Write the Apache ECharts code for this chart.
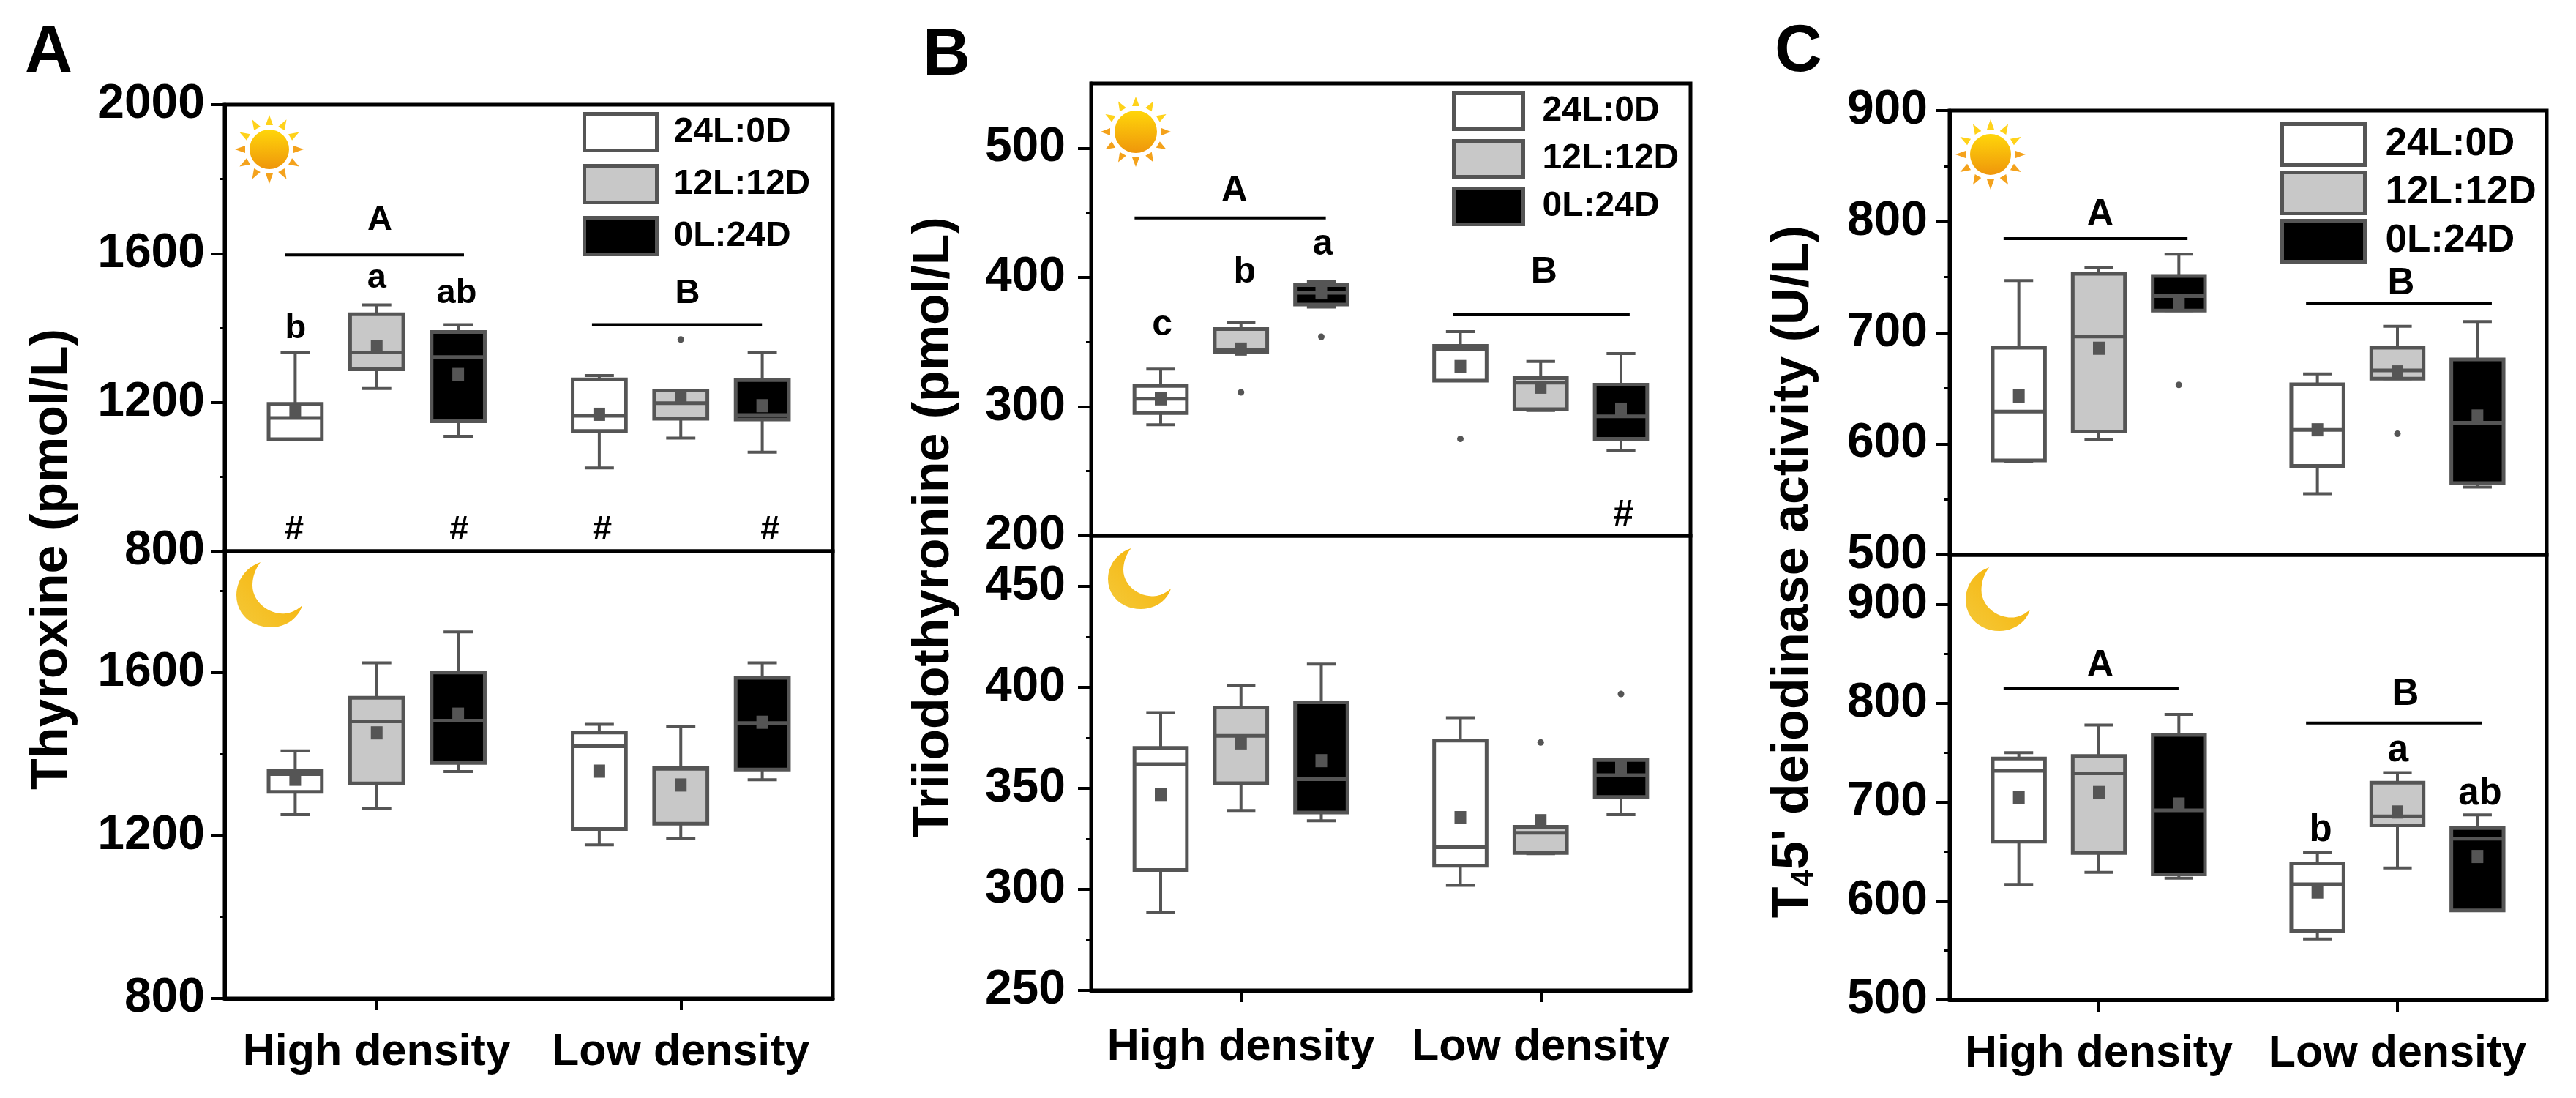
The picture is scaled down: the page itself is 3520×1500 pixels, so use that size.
<!DOCTYPE html>
<html><head><meta charset="utf-8">
<style>html,body{margin:0;padding:0;background:#fff}#c{width:3520px;height:1500px}</style>
<script src="https://cdn.jsdelivr.net/npm/echarts@6/dist/echarts.min.js"></script>
</head><body><div id="c"></div>
<script>
const categories = ['High density', 'Low density'];
const seriesNames = ['24L:0D', '12L:12D', '0L:24D'];
// each row: [low whisker, Q1, median, Q3, high whisker, mean, outlier]
const A_day_24 = [[1101,1101,1158,1196,1334,1176,null],[1024,1123,1164,1262,1272,1168,null]];
const A_day_12 = [[1237,1289,1334,1437,1462,1350,null],[1104,1156,1198,1232,1232,1215,1369]];
const A_day_0  = [[1109,1149,1322,1389,1409,1275,null],[1066,1154,1166,1260,1334,1191,null]];
const A_night_24 = [[1251,1307,1351,1360,1408,1338,null],[1177,1216,1419,1453,1473,1358,null]];
const A_night_12 = [[1267,1328,1480,1538,1624,1452,null],[1192,1229,1364,1366,1467,1324,null]];
const A_night_0  = [[1357,1378,1482,1600,1700,1498,null],[1337,1362,1476,1587,1624,1478,null]];
const B_day_24 = [[286,295,306,316,329,306,null],[320,320,344.5,347,358,331,275]];
const B_day_12 = [[342,342,344,360,365,344.5,311],[297,298,318.5,322,335,315,null]];
const B_day_0  = [[377,379,388,394,397,388,354],[266,275,292.5,317,341,298,null]];
const B_night_24 = [[288.6,309.6,362,370,387.5,347,null],[302,311.7,320.8,373.6,385,335.5,null]];
const B_night_12 = [[339,352.5,376,390,400.7,372.5,null],[317.7,318,328,331,331,334,372.7]];
const B_night_0  = [[334,338,354.5,392.6,411.5,363.7,null],[337,345.7,356.5,364,364,360.5,396.7]];
const C_day_24 = [[583.7,585,629,686.5,747,643,null],[555,580,612.6,653.6,663,612.6,null]];
const C_day_12 = [[604,611,696.6,753,758.5,686,null],[658.6,658.6,666,686.5,705.7,664.7,609]];
const C_day_0  = [[720,720,733,751,770.6,727,653],[561,564.5,619,676,710,625,null]];
const C_night_24 = [[616.7,660,731.6,744,750,705,null],[561.7,570,617,638,649,609,null]];
const C_night_12 = [[629,648.6,729,746.6,778,709.7,null],[633.5,676.6,685.6,719.7,729.8,690,null]];
const C_night_0  = [[623,627,691.7,768,788.6,698,null],[590.5,590.5,663,673.8,687,645,null]];
// annotation lines: [x from, x to (bands from first category), y value]
const A_day_lines = [[-0.301,0.287,1596],[0.708,1.267,1409]];
const B_day_lines = [[-0.355,0.283,446],[0.707,1.297,371]];
const C_day_lines = [[-0.319,0.297,784.7],[0.694,1.316,726]];
const C_night_lines = [[-0.319,0.267,814.5],[0.694,1.282,780]];
// annotation letters: [text, x, y value]
const A_day_letters = [['A',0.01,1690],['B',1.022,1493],['b',-0.267,1397],['a',0,1533],['ab',0.263,1493],['#',-0.271,857],['#',0.271,857],['#',0.742,857],['#',1.294,857]];
const B_day_letters = [['A',-0.022,466.5],['B',1.011,404],['c',-0.263,363],['b',0.012,404],['a',0.273,425],['#',1.276,216]];
const C_day_letters = [['A',0.005,805.5],['B',1.012,744]];
const C_night_letters = [['A',0.005,837.5],['B',1.027,808.7],['b',0.743,671],['a',1.002,752],['ab',1.277,708]];
const A_day_ticks = [800,1200,1600,2000];
const A_night_ticks = [800,1200,1600];
const B_day_ticks = [200,300,400,500];
const B_night_ticks = [250,300,350,400,450];
const C_day_ticks = [500,600,700,800,900];
const C_night_ticks = [500,600,700,800,900];

const FONT = 'Liberation Sans';
const EDGE = '#555555';
const FILLS = ['#ffffff', '#c8c8c8', '#000000'];
const OFFSETS = [-0.268, 0, 0.268];

function boxItem(params, api) {
  const k = seriesNames.indexOf(params.seriesName);
  const band = api.size([1, 0])[0];
  const cx = api.coord([api.value(0), 0])[0] + OFFSETS[k] * band;
  const y = i => api.coord([0, api.value(i)])[1];
  const hw = band * 0.0875, cw = band * 0.048, lw = 4;
  const line = (x1, y1, x2, y2, w) => ({type:'line', shape:{x1, y1, x2, y2}, style:{stroke:EDGE, lineWidth:w || lw, fill:null}});
  const kids = [
    line(cx, y(1), cx, y(5)),
    line(cx - cw, y(1), cx + cw, y(1)),
    line(cx - cw, y(5), cx + cw, y(5)),
    {type:'rect', shape:{x:cx - hw, y:y(4), width:hw*2, height:y(2)-y(4)},
     style:{fill:FILLS[k], stroke:EDGE, lineWidth:5}},
    line(cx - hw, y(3), cx + hw, y(3), 5),
    {type:'rect', shape:{x:cx - 8, y:y(6) - 9, width:16, height:18}, style:{fill:EDGE}}
  ];
  const out = api.value(7);
  if (!isNaN(out) && out !== null) {
    kids.push({type:'circle', shape:{cx, cy:y(7), r:4.5}, style:{fill:EDGE}});
  }
  return {type:'group', children:kids};
}

const series = [], grids = [], xAxes = [], yAxes = [];
function addPanel(rect, range, ticks, sets, lines, letters, letterSize, isBottom, labelMargin, xMargin) {
  const idx = grids.length;
  grids.push({show:true, left:rect[0], top:rect[1], width:rect[2], height:rect[3], borderColor:'#000', borderWidth:5, backgroundColor:'transparent'});
  xAxes.push({type:'category', gridIndex:idx, data:categories, show:isBottom,
    axisLine:{show:true, lineStyle:{color:'#000', width:5}},
    axisTick:{show:isBottom, alignWithLabel:true, interval:0, length:16, lineStyle:{color:'#000', width:4}},
    axisLabel:{show:isBottom, interval:0, fontFamily:FONT, fontWeight:'bold', fontSize:61, color:'#000', margin:xMargin}});
  yAxes.push({type:'value', gridIndex:idx, min:range[0], max:range[1], interval:range[2],
    splitLine:{show:false},
    axisLine:{show:true, lineStyle:{color:'#000', width:5}},
    axisTick:{show:true, length:18, lineStyle:{color:'#000', width:4}, customValues:ticks},
    minorTick:{show:true, splitNumber:2, length:7, lineStyle:{color:'#000', width:3}},
    axisLabel:{fontFamily:FONT, fontWeight:'bold', fontSize:66, color:'#000', margin:labelMargin, customValues:ticks, formatter:v => String(v)}});
  sets.forEach((rows, k) => {
    series.push({type:'custom', name:seriesNames[k], xAxisIndex:idx, yAxisIndex:idx, clip:false,
      data:rows.map((r, c) => [c].concat(r.map(v => v === null ? NaN : v))),
      encode:{x:0, y:[1,2,3,4,5,6,7]},
      renderItem:boxItem, silent:true});
  });
  if (lines) series.push({type:'custom', name:'significance lines', xAxisIndex:idx, yAxisIndex:idx, clip:false, silent:true,
    data:lines.map(l => [0, l[2], l[0], l[1]]), encode:{x:0, y:1},
    renderItem:(p, api) => {
      const o = api.coord([0, api.value(1)]), b = api.size([1,0])[0];
      return {type:'line', shape:{x1:o[0]+api.value(2)*b, y1:o[1], x2:o[0]+api.value(3)*b, y2:o[1]}, style:{stroke:'#000', lineWidth:4}};
    }});
  if (letters) series.push({type:'custom', name:'significance letters', xAxisIndex:idx, yAxisIndex:idx, clip:false, silent:true,
    data:letters.map(l => [0, l[2], l[1]]), encode:{x:0, y:1},
    renderItem:(p, api) => {
      const o = api.coord([0, api.value(1)]), b = api.size([1,0])[0];
      return {type:'text', x:o[0]+api.value(2)*b, y:o[1],
        style:{text:letters[p.dataIndex][0], fontFamily:FONT, fontWeight:'bold', fontSize:letterSize, fill:'#000', align:'center', verticalAlign:'middle'}};
    }});
}
addPanel([307,143,831,610],[800,2000,400],A_day_ticks,[A_day_24,A_day_12,A_day_0],A_day_lines,A_day_letters,47,false,27,44);
addPanel([307,753,831,611],[800,1898,400],A_night_ticks,[A_night_24,A_night_12,A_night_0],null,null,47,true,27,44);
addPanel([1491,114,819,618],[200,550,100],B_day_ticks,[B_day_24,B_day_12,B_day_0],B_day_lines,B_day_letters,50,false,35,48);
addPanel([1491,732,819,621],[250,475,50],B_night_ticks,[B_night_24,B_night_12,B_night_0],null,null,50,true,35,48);
addPanel([2664,151,816,607],[500,900,100],C_day_ticks,[C_day_24,C_day_12,C_day_0],C_day_lines,C_day_letters,51,false,30,44);
addPanel([2664,758,816,608],[500,950,100],C_night_ticks,[C_night_24,C_night_12,C_night_0],C_night_lines,C_night_letters,51,true,30,44);

function legendAt(left, top, w, h, gap, fs, pad) {
  return {orient:'vertical', left, top, padding:0, itemWidth:w, itemHeight:h, itemGap:gap, selectedMode:false,
    textStyle:{fontFamily:FONT, fontWeight:'bold', fontSize:fs, color:'#000', padding:[0,0,0,pad]},
    data:seriesNames.map((n, i) => ({name:n, icon:'rect', itemStyle:{color:FILLS[i], borderColor:EDGE, borderWidth:5, opacity:1}}))};
}

function sun(cx, cy, r, R) {
  const fill = {type:'linear', x:0, y:0, x2:0, y2:1, colorStops:[{offset:0, color:'#FFD60A'},{offset:1, color:'#EF960B'}]};
  const els = [{type:'circle', silent:true, shape:{cx, cy, r}, style:{fill}}];
  for (let i = 0; i < 12; i++) {
    const a = i * Math.PI * 2 / 12 - Math.PI / 2;
    const ri = r + 6, t = 5;
    const pts = [[cx + Math.cos(a)*R, cy + Math.sin(a)*R],
                 [cx + Math.cos(a)*ri - Math.sin(a)*t, cy + Math.sin(a)*ri + Math.cos(a)*t],
                 [cx + Math.cos(a)*ri + Math.sin(a)*t, cy + Math.sin(a)*ri - Math.cos(a)*t]];
    els.push({type:'polygon', silent:true, shape:{points:pts}, style:{fill:Math.sin(a) < 0 ? '#FFD21A' : '#F4A21C'}});
  }
  return els;
}
const MOON_SEGMENTS = [[33,0,10,8,0,28,0,45],[0,45,0,72,22,89,47,89],[47,89,68,89,85,76,90,59],[90,59,80,68,70,71,60,70],[60,70,38,68,22,50,22,32],[22,32,22,20,26,9,33,0]];
function moon(x, y, w, h) {
  const pts = [];
  MOON_SEGMENTS.forEach(s => {
    for (let i = 0; i < 12; i++) {
      const t = i / 12, u = 1 - t;
      const bx = u*u*u*s[0] + 3*u*u*t*s[2] + 3*u*t*t*s[4] + t*t*t*s[6];
      const by = u*u*u*s[1] + 3*u*u*t*s[3] + 3*u*t*t*s[5] + t*t*t*s[7];
      pts.push([x + bx * w / 90, y + by * h / 89]);
    }
  });
  return {type:'polygon', silent:true, shape:{points:pts},
    style:{fill:{type:'linear', x:0, y:1, x2:1, y2:0, colorStops:[{offset:0, color:'#F4C93A'},{offset:1, color:'#F7B000'}]}}};
}
const axisText = (x, y, text, rich) => ({type:'text', silent:true, x, y, rotation:Math.PI/2,
  style:{text, fontFamily:FONT, fontWeight:'bold', fontSize:70, fill:'#000', align:'center', verticalAlign:'middle', rich}});

const graphics = [].concat(
  sun(368,204,27,47), sun(1552,180,29,48), sun(2720,211,28,48),
  [moon(323,768,90,89), moon(1514,749,86,83), moon(2686,775,88,87),
   axisText(72,764,'Thyroxine (pmol/L)'),
   axisText(1277,720,'Triiodothyronine (pmol/L)'),
   axisText(2451,781,"{m|T}{s|4}{m|5' deiodinase activity (U/L)}",
     {m:{fontFamily:FONT, fontWeight:'bold', fontSize:70, fill:'#000'},
      s:{fontFamily:FONT, fontWeight:'bold', fontSize:42, fill:'#000', verticalAlign:'bottom'}})]
);

const chart = echarts.init(document.getElementById('c'), null, {renderer:'canvas', width:3520, height:1500});
chart.setOption({
  animation:false, backgroundColor:'#fff',
  title:[['A',34,28],['B',1261,32],['C',2425,27]].map(t => ({text:t[0], left:t[1], top:t[2], padding:0,
    textStyle:{fontFamily:FONT, fontWeight:'bold', fontSize:90, color:'#000'}})),
  grid:grids, xAxis:xAxes, yAxis:yAxes, series,
  legend:[legendAt(796,153,99,50,16,48,18), legendAt(1984,125,95,49,11,48,21), legendAt(3116,167,113,56,5,53,23)],
  graphic:graphics
});
</script></body></html>
